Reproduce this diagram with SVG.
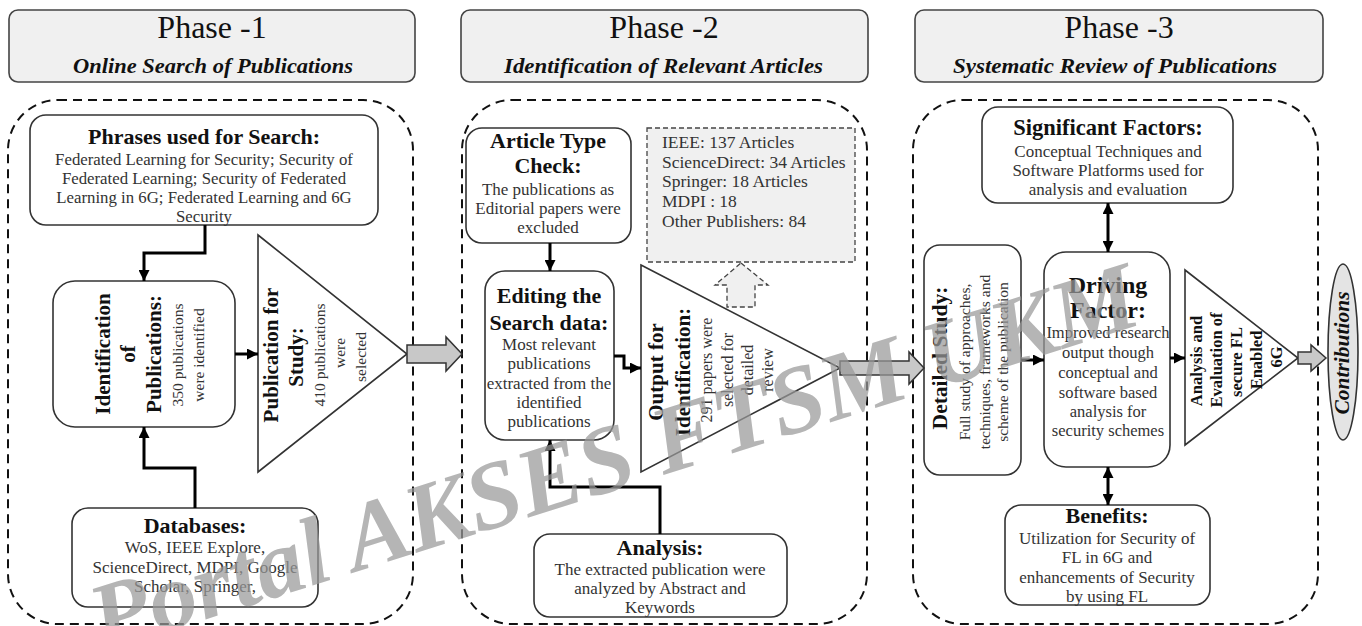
<svg xmlns="http://www.w3.org/2000/svg" width="1362" height="626" viewBox="0 0 1362 626">
<defs>
<style>
.hdr{fill:#f0f0f0;stroke:#444;stroke-width:1.6}
.box{fill:#fff;stroke:#333;stroke-width:1.6}
.cont{fill:none;stroke:#111;stroke-width:2;stroke-dasharray:9 6}
.t{font-family:"Liberation Serif","Times New Roman",serif;fill:#111}
.b{font-weight:bold}
.g{fill:#333}
.sub{font-size:21px;font-weight:bold;font-style:italic}
.conn{fill:none;stroke:#000;stroke-width:3}
.blk{fill:#c8c8c8;stroke:#333;stroke-width:1.5}
.dsh{fill:#f0f0f0;stroke:#444;stroke-width:1.3;stroke-dasharray:5 3}
.wm{font-family:"Liberation Serif","Times New Roman",serif;font-weight:bold;font-style:italic;fill:#999;opacity:0.72}
</style>
<marker id="ah" viewBox="0 0 10 10" refX="10" refY="5" markerWidth="11" markerHeight="11" markerUnits="userSpaceOnUse" orient="auto-start-reverse">
<path d="M0,0 L10,5 L0,10 z" fill="#000"/>
</marker>
</defs>
<rect width="1362" height="626" fill="#fff"/>

<!-- Phase headers -->
<g id="phase1-header">
<rect class="hdr" x="9" y="10" width="406" height="72" rx="9"/>
<text class="t" x="212" y="38" font-size="32" text-anchor="middle">Phase -1</text>
<text class="t sub" x="73" y="73" textLength="280" lengthAdjust="spacingAndGlyphs">Online Search of Publications</text>
</g>
<g id="phase2-header">
<rect class="hdr" x="461" y="10" width="407" height="72" rx="9"/>
<text class="t" x="664" y="38" font-size="32" text-anchor="middle">Phase -2</text>
<text class="t sub" x="504" y="73" textLength="319" lengthAdjust="spacingAndGlyphs">Identification of Relevant Articles</text>
</g>
<g id="phase3-header">
<rect class="hdr" x="915" y="10" width="408" height="72" rx="9"/>
<text class="t" x="1119" y="38" font-size="32" text-anchor="middle">Phase -3</text>
<text class="t sub" x="953" y="73" textLength="324" lengthAdjust="spacingAndGlyphs">Systematic Review of Publications</text>
</g>

<!-- Containers -->
<g id="containers">
<rect class="cont" x="8" y="100" width="405" height="524" rx="50"/>
<rect class="cont" x="462" y="100" width="405" height="524" rx="50"/>
<rect class="cont" x="913" y="100" width="405" height="524" rx="50"/>
</g>

<!-- Phase 1 nodes -->
<g id="phrases">
<rect class="box" x="30" y="115" width="348" height="110" rx="16"/>
<text class="t b" x="204" y="144" font-size="22" text-anchor="middle">Phrases used for Search:</text>
<text class="t g" x="204" y="165" font-size="16.8" text-anchor="middle">Federated Learning for Security; Security of</text>
<text class="t g" x="204" y="184" font-size="16.8" text-anchor="middle">Federated Learning; Security of Federated</text>
<text class="t g" x="204" y="203" font-size="16.8" text-anchor="middle">Learning in 6G; Federated Learning and 6G</text>
<text class="t g" x="204" y="222" font-size="16.8" text-anchor="middle">Security</text>
</g>
<g id="identification">
<rect class="box" x="53" y="281" width="182" height="146" rx="22"/>
<text class="t b" font-size="21" text-anchor="middle" transform="translate(110,354) rotate(-90)">Identification</text>
<text class="t b" font-size="21" text-anchor="middle" transform="translate(135,354) rotate(-90)">of</text>
<text class="t b" font-size="21" text-anchor="middle" transform="translate(161,354) rotate(-90)">Publications:</text>
<text class="t g" font-size="15.5" text-anchor="middle" transform="translate(183,355) rotate(-90)">350 publications</text>
<text class="t g" font-size="15.5" text-anchor="middle" transform="translate(204,355) rotate(-90)">were identified</text>
</g>
<g id="pub-study">
<polygon class="box" points="258,235 407,354 258,472"/>
<text class="t b" font-size="21" text-anchor="middle" transform="translate(278,355) rotate(-90)">Publication for</text>
<text class="t b" font-size="21" text-anchor="middle" transform="translate(303,357) rotate(-90)">Study:</text>
<text class="t g" font-size="15.5" text-anchor="middle" transform="translate(325,355) rotate(-90)">410 publications</text>
<text class="t g" font-size="15.5" text-anchor="middle" transform="translate(345,353) rotate(-90)">were</text>
<text class="t g" font-size="15.5" text-anchor="middle" transform="translate(366,357) rotate(-90)">selected</text>
</g>
<g id="databases">
<rect class="box" x="72" y="508" width="246" height="99" rx="16"/>
<text class="t b" x="195" y="533" font-size="22" text-anchor="middle">Databases:</text>
<text class="t g" x="195" y="553" font-size="17" text-anchor="middle">WoS, IEEE Explore,</text>
<text class="t g" x="195" y="573" font-size="17" text-anchor="middle">ScienceDirect, MDPI, Google</text>
<text class="t g" x="195" y="592" font-size="17" text-anchor="middle">Scholar, Springer,</text>
</g>

<!-- Phase 2 nodes -->
<g id="article-type">
<rect class="box" x="466" y="128" width="165" height="115" rx="16"/>
<text class="t b" x="548" y="148" font-size="22" text-anchor="middle">Article Type</text>
<text class="t b" x="548" y="173" font-size="22" text-anchor="middle">Check:</text>
<text class="t g" x="548" y="195" font-size="17" text-anchor="middle">The publications as</text>
<text class="t g" x="548" y="214" font-size="17" text-anchor="middle">Editorial papers were</text>
<text class="t g" x="548" y="233" font-size="17" text-anchor="middle">excluded</text>
</g>
<g id="publishers">
<rect class="dsh" x="647" y="128" width="208" height="134"/>
<text class="t g" x="662" y="148" font-size="17.5">IEEE: 137 Articles</text>
<text class="t g" x="662" y="168" font-size="17.5">ScienceDirect: 34 Articles</text>
<text class="t g" x="662" y="187" font-size="17.5">Springer: 18 Articles</text>
<text class="t g" x="662" y="207" font-size="17.5">MDPI : 18</text>
<text class="t g" x="662" y="227" font-size="17.5">Other Publishers: 84</text>
</g>
<g id="editing">
<rect class="box" x="485" y="271" width="129" height="169" rx="20"/>
<text class="t b" x="549" y="303" font-size="22" text-anchor="middle">Editing the</text>
<text class="t b" x="549" y="330" font-size="22" text-anchor="middle">Search data:</text>
<text class="t g" x="549" y="350" font-size="17" text-anchor="middle">Most relevant</text>
<text class="t g" x="549" y="369" font-size="17" text-anchor="middle">publications</text>
<text class="t g" x="549" y="389" font-size="17" text-anchor="middle">extracted from the</text>
<text class="t g" x="549" y="408" font-size="17" text-anchor="middle">identified</text>
<text class="t g" x="549" y="427" font-size="17" text-anchor="middle">publications</text>
</g>
<g id="output-identification">
<polygon class="box" points="641,265 840,368 641,472"/>
<text class="t b" font-size="21" text-anchor="middle" transform="translate(663,372) rotate(-90)">Output for</text>
<text class="t b" font-size="21" text-anchor="middle" transform="translate(690,372) rotate(-90)">Identification:</text>
<text class="t g" font-size="16" text-anchor="middle" transform="translate(712,370) rotate(-90)">291 papers were</text>
<text class="t g" font-size="16" text-anchor="middle" transform="translate(733,370) rotate(-90)">selected for</text>
<text class="t g" font-size="16" text-anchor="middle" transform="translate(753,370) rotate(-90)">detailed</text>
<text class="t g" font-size="16" text-anchor="middle" transform="translate(773,370) rotate(-90)">review</text>
</g>
<g id="analysis">
<rect class="box" x="534" y="534" width="253" height="83" rx="16"/>
<text class="t b" x="660" y="555" font-size="22" text-anchor="middle">Analysis:</text>
<text class="t g" x="660" y="575" font-size="17" text-anchor="middle">The extracted publication were</text>
<text class="t g" x="660" y="594" font-size="17" text-anchor="middle">analyzed by Abstract and</text>
<text class="t g" x="660" y="613" font-size="17" text-anchor="middle">Keywords</text>
</g>

<!-- Phase 3 nodes -->
<g id="significant">
<rect class="box" x="982" y="107" width="251" height="96" rx="16"/>
<text class="t b" x="1108" y="135" font-size="22.5" text-anchor="middle">Significant Factors:</text>
<text class="t g" x="1108" y="157" font-size="17" text-anchor="middle">Conceptual Techniques and</text>
<text class="t g" x="1108" y="176" font-size="17" text-anchor="middle">Software Platforms used for</text>
<text class="t g" x="1108" y="195" font-size="17" text-anchor="middle">analysis and evaluation</text>
</g>
<g id="detailed-study">
<rect class="box" x="924" y="245" width="97" height="230" rx="16"/>
<text class="t b" font-size="21.5" text-anchor="middle" transform="translate(947,358) rotate(-90)">Detailed Study:</text>
<text class="t g" font-size="15.5" text-anchor="middle" transform="translate(970,362) rotate(-90)">Full study of approaches,</text>
<text class="t g" font-size="15.5" text-anchor="middle" transform="translate(990,362) rotate(-90)">techniques, frameworks and</text>
<text class="t g" font-size="15.5" text-anchor="middle" transform="translate(1008,362) rotate(-90)">scheme of the publication</text>
</g>
<g id="driving">
<rect class="box" x="1044" y="252" width="126" height="215" rx="22"/>
<text class="t b" x="1108" y="293" font-size="24" text-anchor="middle">Driving</text>
<text class="t b" x="1108" y="318" font-size="24" text-anchor="middle">Factor:</text>
<text class="t g" x="1108" y="338" font-size="16.5" text-anchor="middle">Improved research</text>
<text class="t g" x="1108" y="358" font-size="16.5" text-anchor="middle">output though</text>
<text class="t g" x="1108" y="378" font-size="16.5" text-anchor="middle">conceptual and</text>
<text class="t g" x="1108" y="398" font-size="16.5" text-anchor="middle">software based</text>
<text class="t g" x="1108" y="417" font-size="16.5" text-anchor="middle">analysis for</text>
<text class="t g" x="1108" y="436" font-size="16.5" text-anchor="middle">security schemes</text>
</g>
<g id="evaluation">
<polygon class="box" points="1185,270 1298,358 1185,445"/>
<text class="t b" font-size="16.5" text-anchor="middle" transform="translate(1202,361) rotate(-90)">Analysis and</text>
<text class="t b" font-size="16.5" text-anchor="middle" transform="translate(1222,360) rotate(-90)">Evaluation of</text>
<text class="t b" font-size="16.5" text-anchor="middle" transform="translate(1242,362) rotate(-90)">secure FL</text>
<text class="t b" font-size="16.5" text-anchor="middle" transform="translate(1262,360) rotate(-90)">Enabled</text>
<text class="t b" font-size="16.5" text-anchor="middle" transform="translate(1282,357) rotate(-90)">6G</text>
</g>
<g id="contributions">
<ellipse cx="1343" cy="352" rx="15" ry="88" fill="#e4e4e4" stroke="#333" stroke-width="1.6"/>
<text class="t b" font-size="21.5" font-style="italic" text-anchor="middle" transform="translate(1349,353) rotate(-90)">Contributions</text>
</g>
<g id="benefits">
<rect class="box" x="1005" y="505" width="205" height="100" rx="16"/>
<text class="t b" x="1107" y="523" font-size="22" text-anchor="middle">Benefits:</text>
<text class="t g" x="1107" y="544" font-size="17" text-anchor="middle">Utilization for Security of</text>
<text class="t g" x="1107" y="563" font-size="17" text-anchor="middle">FL in 6G and</text>
<text class="t g" x="1107" y="583" font-size="17" text-anchor="middle">enhancements of Security</text>
<text class="t g" x="1107" y="602" font-size="17" text-anchor="middle">by using FL</text>
</g>

<!-- Connectors -->
<g id="connectors">
<path class="conn" d="M205,225 V253 H144 V281" marker-end="url(#ah)"/>
<path class="conn" d="M195,508 V468 H144 V427" marker-end="url(#ah)"/>
<path class="conn" d="M235,354 H258" marker-end="url(#ah)"/>
<path class="conn" d="M550,243 V271" marker-end="url(#ah)"/>
<path class="conn" d="M614,356 H624 V368 H641" marker-end="url(#ah)"/>
<path class="conn" d="M660,534 V487 H550 V440" marker-end="url(#ah)"/>
<path class="conn" d="M1108,203 V252" marker-start="url(#ah)" marker-end="url(#ah)"/>
<path class="conn" d="M1021,360 H1044" marker-end="url(#ah)"/>
<path class="conn" d="M1170,358 H1185" marker-end="url(#ah)"/>
<path class="conn" d="M1108,467 V505" marker-start="url(#ah)" marker-end="url(#ah)"/>
<polygon class="blk" points="407,345 446,345 446,337 462,354 446,371 446,363 407,363"/>
<polygon class="blk" points="840,361 909,361 909,352 924,368 909,384 909,375 840,375"/>
<polygon class="blk" points="1298,352 1311,352 1311,345 1326,358 1311,371 1311,364 1298,364"/>
<polygon class="dsh" points="741,263 768,285 755,285 755,307 727,307 727,285 715,285"/>
</g>

<!-- Watermark -->
<g id="watermark">
<text class="wm" font-size="96" transform="translate(102,652) rotate(-17.5)">Portal AKSES FTSM UKM</text>
</g>
</svg>
